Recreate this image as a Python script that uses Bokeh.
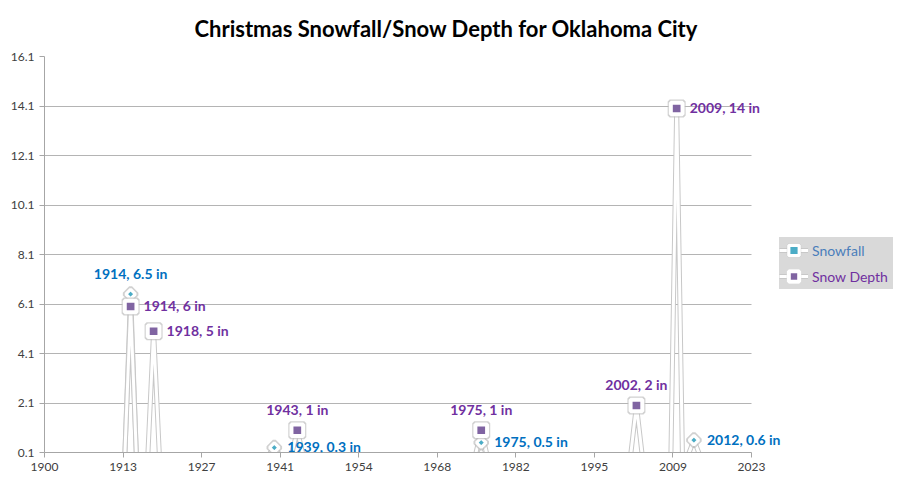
import math
from bokeh.plotting import figure
from bokeh.models import (ColumnDataSource, FixedTicker, Legend, LegendItem,
                          Range1d, LabelSet)
from bokeh.core.properties import value
from bokeh.embed import file_html
from bokeh.resources import INLINE

# ---------------- data ----------------
title_text = "Christmas Snowfall/Snow Depth for Oklahoma City"
first_year = 1900
last_year = 2013

snowfall_years = [1914, 1939, 1975, 2012]
snowfall_in = [6.5, 0.3, 0.5, 0.6]

depth_years = [1914, 1918, 1943, 1975, 2002, 2009]
depth_in = [6, 5, 1, 1, 2, 14]

x_tick_labels = ["1900", "1913", "1927", "1941", "1954", "1968", "1982", "1995", "2009", "2023"]
y_tick_labels = ["0.1", "2.1", "4.1", "6.1", "8.1", "10.1", "12.1", "14.1", "16.1"]

# label placement (style)
snowfall_label_side = ["above", "right", "right", "right"]
depth_label_side = ["right", "right", "above", "above", "above", "right"]

# ---------------- helpers ----------------
XMAS = 358.0 / 365.0  # Dec 25 as fraction of the year
X_MIN, X_MAX = 1900, 2023
Y_MIN, Y_MAX = 0.1, 16.1

x_ticks = [X_MIN + i * (X_MAX - X_MIN) / 9 for i in range(10)]
y_ticks = [float(t) for t in y_tick_labels]

# frame geometry (pixels): axis 1900..2023 spans 44..751, frame extends to 898
FR_L, FR_R, AX_R = 44, 898, 751
X_VIEW_END = X_MIN + (X_MAX - X_MIN) * (FR_R - FR_L) / (AX_R - FR_L)


def yearly(years, vals):
    d = dict(zip(years, vals))
    ys = list(range(first_year, last_year + 1))
    return [y + XMAS for y in ys], [d.get(y, 0) for y in ys]


sf_x, sf_y = yearly(snowfall_years, snowfall_in)
sd_x, sd_y = yearly(depth_years, depth_in)


def fmt(v):
    return ("%g" % v)


sf_pts = ColumnDataSource(dict(
    x=[y + XMAS for y in snowfall_years], y=snowfall_in,
    txt=["%d, %s in" % (y, fmt(v)) for y, v in zip(snowfall_years, snowfall_in)],
    side=snowfall_label_side))
sd_pts = ColumnDataSource(dict(
    x=[y + XMAS for y in depth_years], y=depth_in,
    txt=["%d, %s in" % (y, fmt(v)) for y, v in zip(depth_years, depth_in)],
    side=depth_label_side))

FONT = "Lato"
SF_MARK = "#4BACC6"
SD_MARK = "#8064A2"
SF_LBL = "#0070C0"
SD_LBL = "#7030A0"

p = figure(width=900, height=500,
           x_range=Range1d(X_MIN, X_VIEW_END), y_range=Range1d(Y_MIN, Y_MAX),
           output_backend="svg", toolbar_location=None,
           min_border_left=FR_L, min_border_right=900 - FR_R,
           min_border_top=56, min_border_bottom=48)

p.background_fill_color = None
p.border_fill_color = None
p.outline_line_color = None

# title
p.title.text = title_text
p.title.text_font = FONT
p.title.text_font_size = "22px"
p.title.text_font_style = "bold"
p.title.text_color = "#000000"
p.title.align = "left"
p.title.offset = 150
p.title.standoff = 26
p.title.vertical_align = "top"

# axes
AX = "#a6a6a6"
p.xaxis.ticker = FixedTicker(ticks=x_ticks)
p.xaxis.major_label_overrides = {t: l for t, l in zip(x_ticks, x_tick_labels)}
p.xaxis.bounds = (X_MIN, X_MAX)
p.yaxis.ticker = FixedTicker(ticks=y_ticks)
p.yaxis.major_label_overrides = {t: l for t, l in zip(y_ticks, y_tick_labels)}
for ax in (p.xaxis, p.yaxis):
    ax.axis_line_color = AX
    ax.major_tick_line_color = AX
    ax.minor_tick_line_color = None
    ax.major_tick_in = 0
    ax.major_tick_out = 5
    ax.major_label_text_font = FONT
    ax.major_label_text_font_size = "12px"
    ax.major_label_text_color = "#404040"
    ax.major_label_standoff = 5
p.xgrid.grid_line_color = None
p.ygrid.grid_line_color = "#b4b4b4"
try:
    p.ygrid.cross_bounds = (X_MIN, X_MAX)
except Exception:
    pass

# lines
sf_src = ColumnDataSource(dict(x=sf_x, y=sf_y))
sd_src = ColumnDataSource(dict(x=sd_x, y=sd_y))

sf_sh = p.line("x", "y", source=sf_src, line_color="#c8c8c8", line_width=5)
sf_ln = p.line("x", "y", source=sf_src, line_color="white", line_width=3)
sd_sh = p.line("x", "y", source=sd_src, line_color="#c8c8c8", line_width=5)
sd_ln = p.line("x", "y", source=sd_src, line_color="white", line_width=3)

# markers
sf_msh = p.scatter("x", "y", source=sf_pts, marker="square", angle=value(math.pi / 4),
                   size=9, fill_color=None, line_color="#bdbdbd", line_width=4, line_alpha=0.7)
sf_mk = p.scatter("x", "y", source=sf_pts, marker="square", angle=value(math.pi / 4),
                  size=6.7, fill_color=SF_MARK, line_color="white", line_width=3.2)
sd_msh = p.scatter("x", "y", source=sd_pts, marker="square",
                   size=14, fill_color=None, line_color="#bdbdbd", line_width=4, line_alpha=0.7)
sd_mk = p.scatter("x", "y", source=sd_pts, marker="square",
                  size=11.7, fill_color=SD_MARK, line_color="white", line_width=4)


# data labels
def add_labels(src, color):
    d = src.data
    for side in ("above", "right"):
        idx = [i for i, s in enumerate(d["side"]) if s == side]
        sub = ColumnDataSource(dict(x=[d["x"][i] for i in idx],
                                    y=[d["y"][i] for i in idx],
                                    txt=[d["txt"][i] for i in idx]))
        if side == "above":
            ls = LabelSet(x="x", y="y", text="txt", source=sub, x_offset=0, y_offset=21,
                          text_align="center", text_baseline="middle")
        else:
            ls = LabelSet(x="x", y="y", text="txt", source=sub, x_offset=13, y_offset=1,
                          text_align="left", text_baseline="middle")
        ls.text_font = value(FONT)
        ls.text_font_size = value("14px")
        ls.text_font_style = value("bold")
        ls.text_color = value(color)
        p.add_layout(ls)


add_labels(sf_pts, SF_LBL)
add_labels(sd_pts, SD_LBL)


# legends
def make_legend(label, renderers, color, loc):
    lg = Legend(items=[LegendItem(label=label, renderers=renderers)], location=loc)
    lg.background_fill_color = "#d9d9d9"
    lg.background_fill_alpha = 1
    lg.border_line_color = None
    lg.padding = 0
    lg.margin = 0
    lg.spacing = 0
    lg.glyph_width = 29
    lg.glyph_height = 26
    lg.label_height = 26
    lg.label_width = 81
    lg.label_standoff = 4
    lg.label_text_font = FONT
    lg.label_text_font_size = "14px"
    lg.label_text_color = color
    lg.label_text_baseline = "middle"
    return lg


p.add_layout(make_legend("Snowfall", [sf_sh, sf_ln, sf_msh, sf_mk], "#4a7ebb", (779 - FR_L, 452 - 263)))
p.add_layout(make_legend("Snow Depth", [sd_sh, sd_ln, sd_msh, sd_mk], SD_LBL, (779 - FR_L, 452 - 289)))

open("out.html", "w").write(file_html(p, INLINE))
